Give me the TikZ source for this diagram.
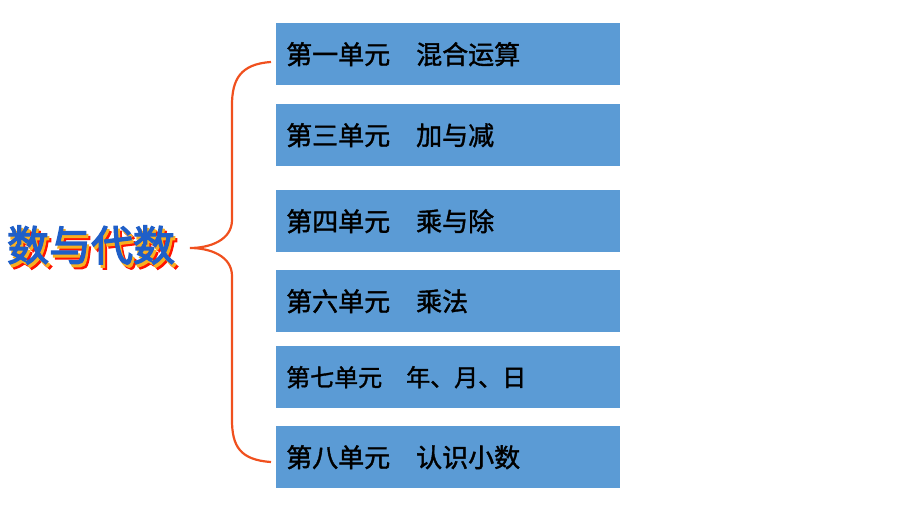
\documentclass[tikz,border=0pt]{standalone}
\usepackage{fontspec}
\newfontfamily\cjk[FakeBold=1.5]{Noto Sans CJK SC}
\newfontfamily\cjkb[FakeBold=3]{Noto Sans CJK SC}
\definecolor{boxblue}{HTML}{5B9BD5}
\definecolor{brace}{HTML}{F0501E}
\definecolor{tblue}{HTML}{1F5FC8}
\definecolor{tyel}{HTML}{F8B020}
\tikzset{unit/.style={fill=boxblue,minimum width=344pt,minimum height=62pt,anchor=north west,inner sep=0pt,
  text width=336pt,align=left,font=\cjk\fontsize{26}{26}\selectfont},
  title/.style={font=\cjkb\fontsize{42}{42}\selectfont}}
\begin{document}
\begin{tikzpicture}[x=1pt,y=-1pt]
\useasboundingbox (0,0) rectangle (920,518);
\node[unit] (u1) at (276,23) {\hspace*{6pt}第一单元\quad 混合运算};
\node[unit] (u3) at (276,104) {\hspace*{6pt}第三单元\quad 加与减};
\node[unit] (u4) at (276,190) {\hspace*{6pt}第四单元\quad 乘与除};
\node[unit] (u6) at (276,270) {\hspace*{6pt}第六单元\quad 乘法};
\node[unit,font=\cjk\fontsize{24}{24}\selectfont] (u7) at (276,346) {\hspace*{6pt}第七单元\quad 年、月、日};
\node[unit] (u8) at (276,426) {\hspace*{6pt}第八单元\quad 认识小数};
\coordinate (tip) at (190,248);
\coordinate (top) at (271,62);
\coordinate (bot) at (271,462);
\draw[brace,line width=2.2pt] (top) .. controls (240,64) and (232,80) .. (232,105)
  -- (232,220) .. controls (232,240) and (210,248) .. (tip)
  .. controls (210,248) and (232,256) .. (232,276) -- (232,420)
  .. controls (232,446) and (240,460) .. (bot);
\node[title,text=red!85!orange] (t2) at (95,250) {数与代数};
\node[title,text=tyel] (t1) at (93,248) {数与代数};
\node[title,text=tblue] (t) at (91,245) {数与代数};
\end{tikzpicture}
\end{document}
